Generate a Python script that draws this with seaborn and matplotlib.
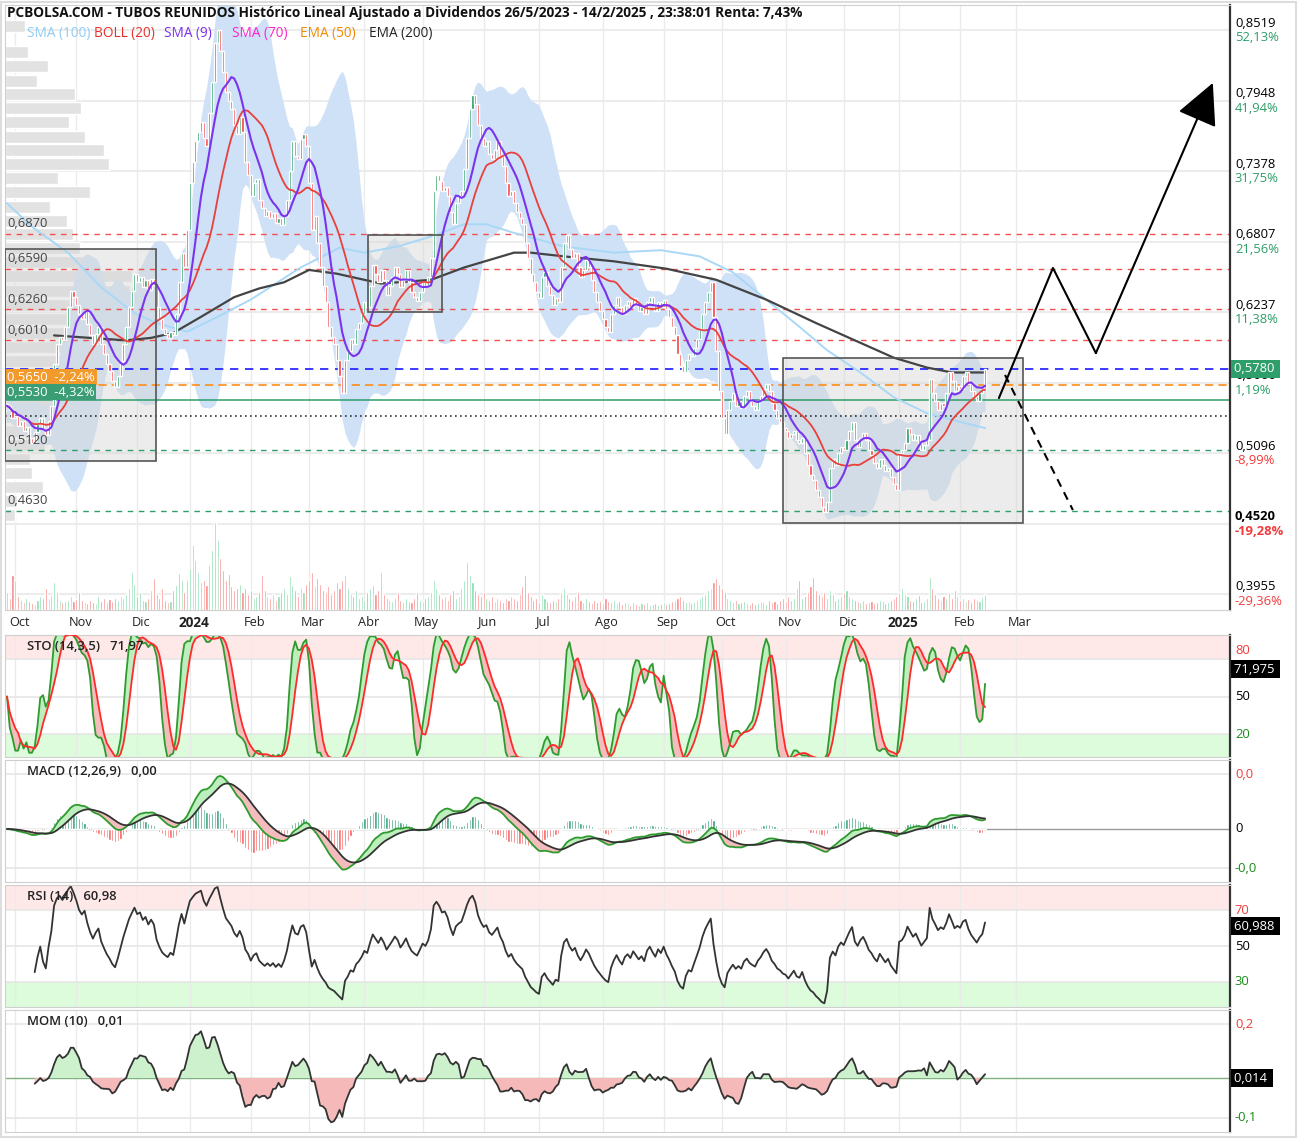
import numpy as np
import pandas as pd
import seaborn as sns
import matplotlib
matplotlib.use("Agg")
import matplotlib.pyplot as plt
from matplotlib.patches import Rectangle
from matplotlib.transforms import blended_transform_factory, ScaledTranslation

sns.set_theme(style="white")
plt.rcParams["font.family"] = ["Open Sans", "DejaVu Sans"]

TITLE = ("PCBOLSA.COM - TUBOS REUNIDOS Histórico Lineal Ajustado a Dividendos "
         "26/5/2023 - 14/2/2025 , 23:38:01 Renta: 7,43%")
LAST_DAY = "2025-02-14"
HOLIDAYS = ["2023-12-25", "2023-12-26", "2024-01-01", "2024-03-29", "2024-04-01",
            "2024-05-01", "2024-12-25", "2024-12-26", "2025-01-01"]
MONTHS = {2: "Feb", 3: "Mar", 4: "Abr", 5: "May", 6: "Jun", 7: "Jul", 8: "Ago",
          9: "Sep", 10: "Oct", 11: "Nov", 12: "Dic"}

# daily closes (27/9/2023 .. 14/2/2025)
close = [
    0.548, 0.545, 0.538, 0.540, 0.532, 0.536, 0.528, 0.531, 0.522, 0.518,
    0.527, 0.533, 0.538, 0.529, 0.524, 0.536, 0.548, 0.582, 0.598, 0.604,
    0.601, 0.612, 0.628, 0.641, 0.636, 0.630, 0.622, 0.618, 0.625,
    0.614, 0.605, 0.598, 0.606, 0.612, 0.598, 0.590, 0.582, 0.576, 0.568,
    0.563, 0.572, 0.584, 0.598, 0.612, 0.628, 0.641, 0.655, 0.648, 0.652,
    0.644, 0.650, 0.642, 0.651, 0.646, 0.628, 0.618, 0.610, 0.606, 0.603,
    0.608, 0.605, 0.622, 0.648, 0.672, 0.660, 0.690, 0.728, 0.745,
    0.762, 0.770, 0.778, 0.765, 0.758, 0.785, 0.810, 0.842, 0.852, 0.835,
    0.818, 0.802, 0.795, 0.788, 0.775, 0.768, 0.782, 0.770, 0.745, 0.735,
    0.718, 0.728, 0.732, 0.715, 0.708, 0.702, 0.706, 0.700, 0.704, 0.696,
    0.700, 0.694, 0.702, 0.715, 0.738, 0.762, 0.750, 0.748, 0.764, 0.768,
    0.758, 0.728, 0.690, 0.702, 0.680, 0.660, 0.645, 0.632, 0.612,
    0.604, 0.598, 0.585, 0.572, 0.558, 0.585, 0.592, 0.602, 0.598, 0.610,
    0.615, 0.622, 0.632, 0.628, 0.645, 0.662, 0.655, 0.648, 0.658, 0.650,
    0.638, 0.645, 0.652, 0.660, 0.655, 0.644, 0.650, 0.658, 0.648, 0.640,
    0.636, 0.633, 0.640, 0.648, 0.645, 0.652, 0.668, 0.722, 0.735,
    0.730, 0.722, 0.725, 0.718, 0.705, 0.695, 0.712, 0.718, 0.722, 0.740,
    0.765, 0.788, 0.800, 0.792, 0.775, 0.765, 0.758, 0.762, 0.752, 0.748,
    0.755, 0.762, 0.750, 0.742, 0.728, 0.718, 0.722, 0.712, 0.705, 0.700,
    0.695, 0.680, 0.668, 0.655, 0.648, 0.640, 0.635, 0.652, 0.656, 0.645,
    0.638, 0.630, 0.635, 0.632, 0.660, 0.680, 0.686, 0.675, 0.668,
    0.672, 0.660, 0.652, 0.658, 0.666, 0.660, 0.650, 0.640, 0.632, 0.625,
    0.618, 0.612, 0.608, 0.622, 0.630, 0.636, 0.628, 0.622, 0.630, 0.633,
    0.628, 0.635, 0.630, 0.625, 0.628, 0.622, 0.632, 0.636, 0.630, 0.625,
    0.632, 0.628, 0.634, 0.626, 0.620, 0.612, 0.605, 0.590, 0.580,
    0.575, 0.585, 0.590, 0.588, 0.595, 0.602, 0.610, 0.622, 0.632, 0.640,
    0.648, 0.620, 0.592, 0.560, 0.538, 0.525, 0.545, 0.552, 0.558, 0.548,
    0.552, 0.546, 0.556, 0.560, 0.552, 0.548, 0.545, 0.552, 0.556, 0.562,
    0.566, 0.560, 0.550, 0.545, 0.538, 0.535, 0.530, 0.528, 0.522, 0.525,
    0.528, 0.520, 0.518, 0.522, 0.510, 0.500, 0.492, 0.488, 0.480,
    0.474, 0.466, 0.462, 0.470, 0.498, 0.505, 0.500, 0.510, 0.515, 0.512,
    0.520, 0.528, 0.535, 0.520, 0.515, 0.522, 0.526, 0.520, 0.512, 0.508,
    0.502, 0.498, 0.505, 0.500, 0.495, 0.498, 0.490, 0.485, 0.480, 0.510,
    0.512, 0.518, 0.530, 0.525, 0.520, 0.524, 0.518, 0.512, 0.516,
    0.520, 0.570, 0.558, 0.552, 0.545, 0.550, 0.548, 0.558, 0.575, 0.568,
    0.560, 0.564, 0.562, 0.572, 0.575, 0.566, 0.560, 0.556, 0.552, 0.558, 0.562, 0.578,
]

volume = [
    18, 12, 35, 30, 14, 10, 8, 12, 9, 7,
    6, 10, 14, 12, 22, 12, 15, 28, 18, 10,
    8, 9, 10, 14, 9, 11, 18, 10, 8,
    7, 10, 8, 7, 14, 9, 12, 8, 11, 9,
    12, 10, 14, 12, 16, 22, 38, 26, 14, 18,
    10, 9, 12, 20, 32, 16, 12, 22, 10, 8,
    9, 20, 25, 37, 30, 18, 30, 42, 65,
    50, 38, 28, 30, 25, 45, 60, 88, 70, 52,
    40, 30, 36, 24, 20, 22, 26, 18, 22, 16,
    20, 12, 14, 18, 35, 20, 14, 12, 16, 10,
    14, 18, 22, 16, 34, 25, 20, 14, 22, 18,
    26, 30, 38, 24, 32, 26, 20, 18, 24,
    16, 20, 28, 22, 30, 35, 22, 16, 14, 20,
    12, 14, 10, 18, 22, 25, 16, 20, 38, 16,
    12, 10, 9, 12, 18, 10, 8, 12, 9, 8,
    12, 18, 10, 9, 12, 14, 18, 30, 22,
    16, 12, 14, 10, 16, 20, 12, 14, 22, 30,
    48, 35, 28, 20, 16, 14, 18, 12, 10, 14,
    9, 12, 10, 8, 12, 10, 14, 12, 10, 16,
    24, 35, 18, 14, 10, 12, 8, 16, 12, 9,
    8, 10, 9, 12, 18, 22, 16, 12, 10,
    14, 18, 10, 8, 12, 9, 7, 10, 8, 9,
    7, 12, 9, 8, 10, 7, 9, 6, 8, 7,
    5, 8, 6, 5, 7, 6, 8, 5, 6, 7,
    5, 6, 8, 6, 7, 9, 10, 12, 14,
    10, 8, 9, 7, 8, 10, 12, 14, 16, 20,
    22, 28, 32, 26, 22, 18, 12, 10, 8, 10,
    7, 8, 9, 7, 6, 8, 6, 7, 9, 8,
    6, 10, 8, 9, 7, 10, 12, 9, 14, 10,
    12, 22, 30, 12, 14, 18, 24, 33, 20,
    16, 14, 18, 12, 20, 16, 10, 12, 14, 18,
    20, 14, 12, 10, 9, 8, 10, 7, 8, 9,
    7, 8, 10, 9, 7, 8, 10, 12, 14, 18,
    22, 16, 14, 10, 9, 12, 15, 8, 9,
    12, 33, 22, 16, 12, 10, 14, 12, 18, 12,
    20, 14, 10, 12, 9, 11, 8, 12, 10, 9, 13, 16,
]

# long averages (their history starts before the visible window), read at sample bars
sma100_bar = [0, 9, 22, 34, 46, 54, 65, 76, 88, 106, 120, 129, 141, 153, 165,
              173, 183, 201, 219, 236, 250, 262, 274, 286, 296, 308, 320, 332, 344, 353]
sma100_val = [0.712, 0.693, 0.672, 0.644, 0.623, 0.615, 0.608, 0.620, 0.634, 0.660,
              0.676, 0.672, 0.677, 0.685, 0.695, 0.695, 0.688, 0.677, 0.672, 0.674,
              0.669, 0.656, 0.634, 0.612, 0.593, 0.575, 0.555, 0.542, 0.535, 0.530]
ema200_bar = [17, 30, 43, 52, 60, 70, 82, 91, 100, 109, 119, 135, 153, 165, 183,
              189, 201, 219, 238, 256, 274, 292, 304, 320, 332, 341, 353]
ema200_val = [0.605, 0.603, 0.601, 0.603, 0.607, 0.620, 0.636, 0.643, 0.648, 0.658,
              0.655, 0.647, 0.650, 0.660, 0.672, 0.672, 0.669, 0.665, 0.659, 0.650,
              0.634, 0.615, 0.603, 0.587, 0.579, 0.575, 0.575]

# volume-at-price profile on the left
profile_price = [0.8555, 0.8442, 0.8345, 0.8231, 0.8110, 0.8005, 0.7891, 0.7778, 0.7657,
                 0.7551, 0.7438, 0.7325, 0.7211, 0.7090, 0.6976, 0.6871, 0.6758, 0.6644,
                 0.6531, 0.6410, 0.6296, 0.6183, 0.6069, 0.5956, 0.5843, 0.5729, 0.5616,
                 0.5503, 0.5389, 0.5276, 0.5163, 0.5049, 0.4936, 0.4822, 0.4709, 0.4596]
profile_vol = [20, 0, 23, 43, 32, 70, 76, 64, 80, 99, 104, 53, 85, 45, 62, 68, 75, 83,
               127, 125, 100, 120, 110, 90, 80, 70, 60, 68, 55, 45, 40, 25, 27, 38, 12, 10]

red_levels = [0.6870, 0.6590, 0.6260, 0.6010]
red_level_text = ["0,6870", "0,6590", "0,6260", "0,6010"]
green_levels = [0.5120, 0.4630]
green_level_text = ["0,5120", "0,4630"]
last_level = 0.5780
orange_level = 0.5650
green_line_level = 0.5530
dotted_level = 0.5400

box_x0 = [-0.7, 130.3, 280.0]
box_x1 = [53.8, 157.0, 366.7]
box_lo = [0.5033, 0.6240, 0.4531]
box_hi = [0.6750, 0.6863, 0.5867]

proj_bar = [358.0, 377.5, 393.0]
proj_val = [0.5543, 0.6596, 0.5907]
tip_bar, tip_val = 435.2, 0.8094
dash_bar = [360.2, 384.7]
dash_val = [0.5730, 0.4636]

right_ticks = [0.8519, 0.7948, 0.7378, 0.6807, 0.6237, 0.5666, 0.5096, 0.4525, 0.3955]
right_price_text = ["0,8519", "0,7948", "0,7378", "0,6807", "0,6237", "0,5666",
                    "0,5096", "0,4520", "0,3955"]
right_pct_text = ["52,13%", "41,94%", "31,75%", "21,56%", "11,38%", "1,19%",
                  "-8,99%", "-19,28%", "-29,36%"]

mom_grid = [0.2, -0.148]

# ---------------------------------------------------------------- dates
cbd = pd.offsets.CustomBusinessDay(holidays=pd.to_datetime(HOLIDAYS))
dates = pd.date_range(end=LAST_DAY, periods=len(close), freq=cbd)
future = pd.date_range(dates[-1] + cbd, periods=100, freq=cbd)
all_dates = dates.append(future)

tick_pos, tick_lab = [], []
for i in range(1, len(all_dates)):
    d, p = all_dates[i], all_dates[i - 1]
    if d.month != p.month and d <= pd.Timestamp("2025-03-31"):
        tick_pos.append(i)
        tick_lab.append(str(d.year) if d.month == 1 else MONTHS[d.month])

# ---------------------------------------------------------------- indicators
s = pd.Series(close)
x = np.arange(len(s))
opens = s.shift(1).fillna(s.iloc[0])
sma9 = s.rolling(9, min_periods=1).mean()
mid = s.rolling(20, min_periods=1).mean()
sd = s.rolling(20, min_periods=5).std(ddof=0).bfill()
upper, lower = mid + 2 * sd, mid - 2 * sd

hh = s.rolling(14, min_periods=1).max()
ll = s.rolling(14, min_periods=1).min()
raw_k = (100 * (s - ll) / (hh - ll)).replace([np.inf, -np.inf], np.nan).fillna(50)
sto_k = raw_k.rolling(3, min_periods=1).mean()
sto_d = sto_k.rolling(5, min_periods=1).mean()

macd = s.ewm(span=12, adjust=False).mean() - s.ewm(span=26, adjust=False).mean()
signal = macd.ewm(span=9, adjust=False).mean()
hist = macd - signal

delta = s.diff()
gain = delta.clip(lower=0).ewm(alpha=1 / 14, adjust=True, min_periods=10).mean()
loss = (-delta.clip(upper=0)).ewm(alpha=1 / 14, adjust=True, min_periods=10).mean()
rsi = 100 - 100 / (1 + gain / loss.replace(0, np.nan))

mom = s - s.shift(10)

# ---------------------------------------------------------------- figure
W, H = 1298, 1138
fig = plt.figure(figsize=(W / 100, H / 100), dpi=100)
L, R = 5 / W, 1230 / W


def panel(top, bot):
    return fig.add_axes([L, 1 - bot / H, R - L, (bot - top) / H])


XLIM = (-0.72, 441.4)
GRID = "#ebebeb"
GREEN_T = "#2e9e6a"
RED_T = "#f23c3c"
FS = 9.4


def style(ax):
    ax.set_xlim(*XLIM)
    ax.set_yticks([])
    ax.set_xticks([])
    for side in ("left", "top", "bottom"):
        ax.spines[side].set_color("#cfcfcf")
        ax.spines[side].set_linewidth(0.8)
    ax.spines["right"].set_color("#333333")
    ax.spines["right"].set_linewidth(1.6)
    for p in tick_pos:
        ax.axvline(p, color=GRID, lw=1, zorder=0.2)


def right_label(ax, y, text, color="black", va="center", weight="normal"):
    tr = blended_transform_factory(ax.transAxes, ax.transData)
    ax.text(1.004, y, text, transform=tr, ha="left", va=va, fontsize=FS,
            color=color, fontweight=weight, clip_on=False)


def value_box(ax, y, text, face="black"):
    tr = blended_transform_factory(ax.transAxes, ax.transData)
    ax.text(1.003, y, text + " ", transform=tr, ha="left", va="center", fontsize=FS,
            color="white", clip_on=False, zorder=10,
            bbox=dict(boxstyle="square,pad=0.2", fc=face, ec="none"))


def panel_title(ax, text):
    ax.text(0.018, 0.905, text, transform=ax.transAxes, fontsize=9.4,
            fontweight="semibold", color="#222222", va="center")


# ---------------------------------------------------------------- price panel
ax = panel(5, 610)
style(ax)
YB, YT = 0.3827, 0.8725
ax.set_ylim(YB, YT)

for v in right_ticks:
    ax.axhline(v, color="#ececec", lw=1.5, zorder=0.2)

ax.barh(profile_price, np.array(profile_vol) / 2.771, left=XLIM[0], height=0.0097,
        color="#e2e2e2", zorder=0.5)

ax.fill_between(x, lower, upper, color="#cfe1f6", lw=0, zorder=1)

for x0, x1, lo, hi in zip(box_x0, box_x1, box_lo, box_hi):
    ax.add_patch(Rectangle((x0, lo), x1 - x0, hi - lo, fc="#d6d6d6", alpha=0.45,
                           ec="none", zorder=1.5))
    ax.add_patch(Rectangle((x0, lo), x1 - x0, hi - lo, fc="none", ec="#555555",
                           lw=1.2, zorder=6))

for v in red_levels:
    ax.axhline(v, color="#f25050", lw=1, dashes=(4, 4), zorder=2)
for v in green_levels:
    ax.axhline(v, color=GREEN_T, lw=1, dashes=(4, 4), zorder=2)
ax.axhline(last_level, color="#1a1aff", lw=1.2, dashes=(5, 4), zorder=2)
ax.axhline(orange_level, color="#ff8c1a", lw=1.2, dashes=(5, 3), zorder=2)
ax.axhline(green_line_level, color=GREEN_T, lw=1.1, zorder=2)
ax.axhline(dotted_level, color="#333333", lw=1.2, dashes=(1, 2), zorder=2)

# volume bars at the bottom of the price panel
vunit = (YT - YB) / 605
up = (s >= opens).values
vcol = np.where(up, "#7fdaa8", "#f78282")
ax.bar(x, np.array(volume) * vunit, bottom=YB, width=0.75, color=vcol, zorder=2.5)

# candles (open = previous close)
body_lo = np.minimum(opens, s)
body_h = np.maximum(np.abs(s - opens), 0.0015)
ccol = np.where(up, "#1a9858", "#f2403f")
ax.bar(x, body_h, bottom=body_lo, width=0.75, color=ccol, zorder=4)

sns.lineplot(x=sma100_bar, y=sma100_val, ax=ax, color="#a9d8f7", lw=1.4, zorder=3)
sns.lineplot(x=ema200_bar, y=ema200_val, ax=ax, color="#444444", lw=1.6, zorder=3)
sns.lineplot(x=x, y=mid.values, ax=ax, color="#e8403c", lw=1.3, zorder=5)
sns.lineplot(x=x, y=sma9.values, ax=ax, color="#7b34ee", lw=1.5, zorder=5)

ax.plot(proj_bar, proj_val, color="black", lw=1.5, zorder=7)
ax.annotate("", xy=(tip_bar, tip_val), xytext=(proj_bar[-1], proj_val[-1]),
            arrowprops=dict(arrowstyle="-|>,head_length=1.0,head_width=0.5",
                            mutation_scale=26, color="black", lw=1.5,
                            shrinkA=0, shrinkB=0), zorder=7)
ax.plot(dash_bar, dash_val, color="black", lw=1.5, dashes=(4, 3), zorder=7)

ltr = blended_transform_factory(ax.transAxes, ax.transData)
for v, t in zip(red_levels + green_levels, red_level_text + green_level_text):
    ax.text(0.0018, v + 0.0030, t, transform=ltr, fontsize=FS, color="#444444",
            va="bottom", zorder=8)
ax.text(0.0018, orange_level + 0.0009, "0,5650  -2,24%", transform=ltr, fontsize=FS,
        color="white", va="bottom", zorder=8,
        bbox=dict(boxstyle="square,pad=0.12", fc="#f39a2c", ec="none"))
ax.text(0.0018, green_line_level + 0.0009, "0,5530  -4,32%", transform=ltr, fontsize=FS,
        color="white", va="bottom", zorder=8,
        bbox=dict(boxstyle="square,pad=0.12", fc="#3a9d74", ec="none"))

for v, pt, pc in zip(right_ticks, right_price_text, right_pct_text):
    bold = "bold" if pt == "0,4520" else "normal"
    right_label(ax, v + 0.0006, pt, va="bottom", weight=bold)
    right_label(ax, v - 0.0006, pc, va="top", weight=bold,
                color=RED_T if pc.startswith("-") else GREEN_T)
value_box(ax, last_level, "0,5780", face=GREEN_T)

ax.set_xticks(tick_pos)
ax.set_xticklabels(tick_lab)
ax.tick_params(axis="x", length=0, pad=4, labelsize=9.2, labelcolor="#222222")
shift = ScaledTranslation(4 / 100, 0, fig.dpi_scale_trans)
for lbl in ax.get_xticklabels():
    lbl.set_transform(lbl.get_transform() + shift)
    if lbl.get_text().isdigit():
        lbl.set_fontweight("bold")
        lbl.set_fontsize(9.8)

legend_items = [("SMA (100)", "#8fccf3", 27), ("BOLL (20)", "#e8302a", 94),
                ("SMA (9)", "#7a2ff0", 164), ("SMA (70)", "#ff22cc", 232),
                ("EMA (50)", "#f08a00", 300), ("EMA (200)", "#222222", 369)]
for name, col, px in legend_items:
    fig.text(px / W, 1 - 34 / H, name, color=col, fontsize=9.8, va="center")
fig.text(7 / W, 1 - 13 / H, TITLE, fontsize=9.8, fontweight="bold", va="center",
         color="#111111")

# ---------------------------------------------------------------- STO
ax1 = panel(635, 757)
style(ax1)
ax1.set_ylim(1.6, 99.2)
ax1.axhspan(80, 100, color="#ffe8e8", zorder=0.1, lw=0)
ax1.axhspan(0, 20, color="#dcfcdc", zorder=0.1, lw=0)
for v in (80, 50, 20):
    ax1.axhline(v, color="#e6e6e6", lw=1.2, zorder=0.3)
ax1.fill_between(x, sto_k, sto_d, where=sto_k >= sto_d, interpolate=True,
                 color="#bdeebd", lw=0, zorder=1)
ax1.fill_between(x, sto_k, sto_d, where=sto_k < sto_d, interpolate=True,
                 color="#f4bcbc", lw=0, zorder=1)
sns.lineplot(x=x, y=sto_k.values, ax=ax1, color="#2f9a2f", lw=1.3, zorder=2)
sns.lineplot(x=x, y=sto_d.values, ax=ax1, color="#ff2a2a", lw=1.3, zorder=3)
right_label(ax1, 82, "80", color=RED_T, va="bottom")
right_label(ax1, 50, "50")
right_label(ax1, 20, "20", color="#1a8a1a")
value_box(ax1, 71.975, "71,975")
panel_title(ax1, "STO (14,3,5)   71,97")

# ---------------------------------------------------------------- MACD
ax2 = panel(760, 882)
style(ax2)
M = float(macd.max())
ax2.set_ylim(-1.0 * M, 1.30 * M)
for v in (1.03 * M, -0.74 * M):
    ax2.axhline(v, color="#e6e6e6", lw=1.2, zorder=0.3)
ax2.axhline(0, color="#9a9a9a", lw=1, zorder=0.4)
ax2.bar(x, hist * 1.6, width=0.8, color=np.where(hist >= 0, "#2f9b73", "#f55a5a"), zorder=1)
ax2.fill_between(x, macd, signal, where=macd >= signal, interpolate=True,
                 color="#bdeebd", lw=0, zorder=1.5)
ax2.fill_between(x, macd, signal, where=macd < signal, interpolate=True,
                 color="#f4bcbc", lw=0, zorder=1.5)
sns.lineplot(x=x, y=macd.values, ax=ax2, color="#2f9a2f", lw=1.3, zorder=2)
sns.lineplot(x=x, y=signal.values, ax=ax2, color="#333333", lw=1.3, zorder=3)
right_label(ax2, 1.03 * M, "0,0", color=RED_T)
right_label(ax2, 0, "0")
right_label(ax2, -0.74 * M, "-0,0", color="#1a8a1a")
panel_title(ax2, "MACD (12,26,9)   0,00")

# ---------------------------------------------------------------- RSI
ax3 = panel(885, 1007)
style(ax3)
ax3.set_ylim(16.1, 83.9)
ax3.axhspan(70, 100, color="#ffe8e8", zorder=0.1, lw=0)
ax3.axhspan(0, 30, color="#dcfcdc", zorder=0.1, lw=0)
for v in (70, 50, 30):
    ax3.axhline(v, color="#e6e6e6", lw=1.2, zorder=0.3)
sns.lineplot(x=x, y=rsi.values, ax=ax3, color="#333333", lw=1.3, zorder=2)
right_label(ax3, 70, "70", color=RED_T)
right_label(ax3, 50, "50")
right_label(ax3, 30, "30", color="#1a8a1a")
value_box(ax3, 60.988, "60,988")
panel_title(ax3, "RSI (14)   60,98")

# ---------------------------------------------------------------- MOM
ax4 = panel(1010, 1132)
style(ax4)
ax4.set_ylim(-mom_grid[0], mom_grid[0] * 68 / 54)
for v in mom_grid:
    ax4.axhline(v, color="#e6e6e6", lw=1.2, zorder=0.3)
ax4.axhline(0, color="#7fb27f", lw=1, zorder=0.4)
ax4.fill_between(x, mom, 0, where=mom >= 0, interpolate=True, color="#cdf0cd",
                 lw=0, zorder=1)
ax4.fill_between(x, mom, 0, where=mom < 0, interpolate=True, color="#f5b9b9",
                 lw=0, zorder=1)
sns.lineplot(x=x, y=mom.values, ax=ax4, color="#333333", lw=1.3, zorder=2)
right_label(ax4, mom_grid[0], "0,2", color=RED_T)
right_label(ax4, mom_grid[1], "-0,1", color="#1a8a1a")
value_box(ax4, 0.0, "0,014")
panel_title(ax4, "MOM (10)   0,01")

fig.add_artist(Rectangle((1 / W, 1 / H), 1 - 3 / W, 1 - 3 / H, transform=fig.transFigure,
                         fc="none", ec="#dddddd", lw=1.5))

fig.savefig("out.png", dpi=100)
